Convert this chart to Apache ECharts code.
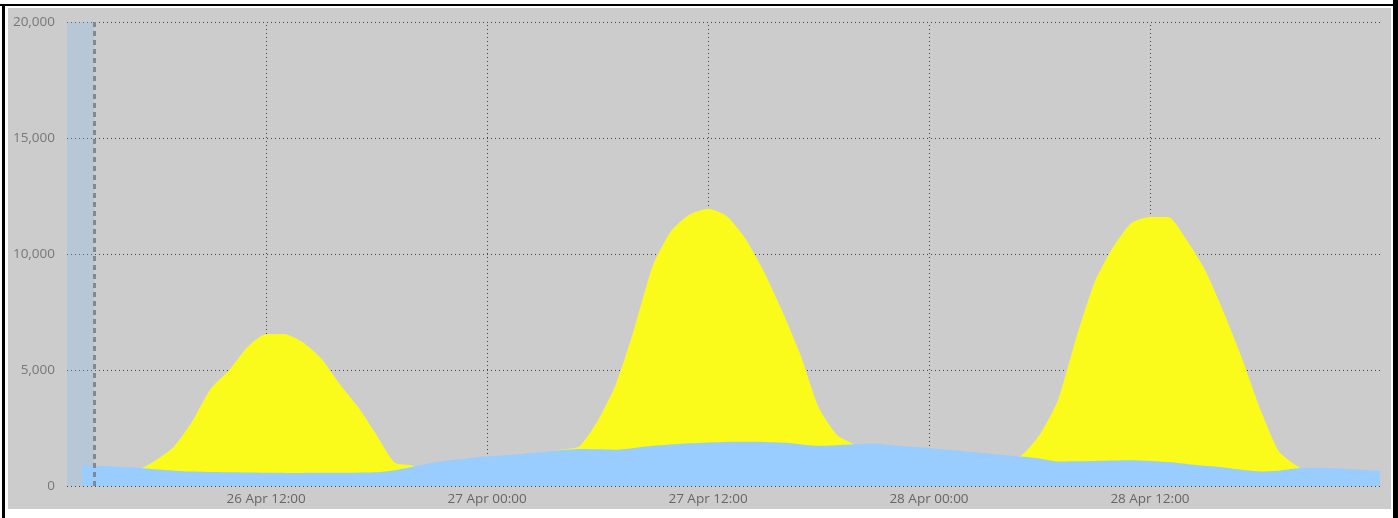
<!doctype html>
<html>
<head>
<meta charset="utf-8">
<title>Solar vs consumption</title>
<script src="https://cdn.jsdelivr.net/npm/echarts@6/dist/echarts.min.js"></script>
<style type="text/css">
	body{margin:0; background:#fff; width:1398px; height:518px; overflow:hidden; position:relative;}
	.bar{position:absolute; background:#000;}
	#chart{position:absolute; left:8px; top:8px; width:1383px; height:501px; background:#cccccc;}
</style>
</head>
<body>
<div class="bar" style="left:0; top:4px; width:1393px; height:2px;"></div>
<div class="bar" style="left:2px; top:4px; width:3px; height:514px;"></div>
<div class="bar" style="left:1393px; top:0; width:5px; height:518px;"></div>
<div id="chart"></div>
<script type="text/javascript">
// hours since 26 Apr 00:00, one sample per hour
var hours = [];
for (var h = 2; h <= 72; h++) hours.push(h);
hours.push(72.5);

// house consumption (blue)
var usage = [880,860,830,790,720,660,620,600,590,580,570,565,565,570,570,575,590,680,830,1000,
	1110,1200,1280,1330,1390,1450,1540,1590,1580,1560,1640,1730,1790,1840,1880,1900,1905,1900,1875,1800,
	1730,1760,1800,1830,1760,1700,1640,1560,1490,1420,1340,1270,1190,1060,1070,1080,1100,1110,1080,1030,
	950,870,800,700,630,660,760,790,760,720,680,655];

// solar production (yellow)
var solar = [0,0,0,650,1100,1700,2800,4200,5000,6000,6550,6550,6200,5500,4400,3400,2200,1000,860,200,
	0,0,0,0,0,1300,1560,1700,2800,4400,6800,9500,11000,11700,11950,11650,10700,9300,7600,5700,
	3400,2200,1750,800,0,0,0,0,0,0,1000,1300,2200,3700,6400,8800,10300,11350,11600,11600,
	10600,9300,7500,5500,3300,1500,850,400,0,0,0,0];

var yTicks = [0, 5000, 10000, 15000, 20000];
var gridHours = [12, 24, 36, 48, 60];   // vertical grid lines / labelled ticks
var axisStartHour = 1.19, axisEndHour = 72.6, nowHour = 2.66;
var months = ['Jan','Feb','Mar','Apr','May','Jun','Jul','Aug','Sep','Oct','Nov','Dec'];

var base = new Date(2023, 3, 26, 0, 0).getTime();
function at(h){ return base + h * 3600 * 1000; }
function pad(n){ return (n < 10 ? '0' : '') + n; }

var usageData = hours.map(function(h, i){ return [at(h), usage[i]]; });
var solarData = hours.map(function(h, i){ return [at(h), solar[i]]; });
var labelled = gridHours.map(at);

var chart = echarts.init(document.getElementById('chart'));
var halfDay = 12 * 3600 * 1000;
var gridLine = {color: '#444', width: 1, type: [1, 3]};
var option = {
	animation: false,
	grid: {left: 59, right: 9, top: 14, bottom: 23, outerBoundsMode: 'none'},
	xAxis: {
		type: 'time',
		min: at(axisStartHour),
		max: at(axisEndHour),
		splitNumber: 5,
		minInterval: halfDay,
		axisLine: {show: false},
		axisTick: {show: false},
		axisLabel: {
			color: '#666',
			fontFamily: 'Open Sans',
			fontSize: 13.5,
			margin: 6,
			showMinLabel: false,
			showMaxLabel: false,
			formatter: function(v){
				if (labelled.indexOf(v) < 0) return '';
				var d = new Date(v);
				return d.getDate() + ' ' + months[d.getMonth()] + ' ' + pad(d.getHours()) + ':' + pad(d.getMinutes());
			}
		},
		splitLine: {show: false}
	},
	yAxis: {
		type: 'value',
		min: yTicks[0],
		max: yTicks[yTicks.length - 1],
		interval: 5000,
		axisLine: {show: false},
		axisTick: {show: false},
		axisLabel: {
			color: '#777',
			fontFamily: 'Open Sans',
			fontSize: 13.5,
			margin: 12,
			formatter: function(v){ return v.toLocaleString('en-US'); }
		},
		splitLine: {show: true, lineStyle: gridLine}
	},
	series: [
		{
			name: 'Solar',
			type: 'line',
			data: solarData,
			showSymbol: false,
			smooth: 0.2,
			lineStyle: {width: 0},
			areaStyle: {color: '#fafa1b', opacity: 1},
			z: 2,
			markLine: {
				silent: true,
				symbol: 'none',
				label: {show: false},
				lineStyle: gridLine,
				z: 1,
				data: labelled.map(function(t){ return {xAxis: t}; })
			}
		},
		{
			name: 'Consumption',
			type: 'line',
			data: usageData,
			showSymbol: false,
			smooth: 0.2,
			lineStyle: {width: 0},
			areaStyle: {color: '#99ccff', opacity: 1},
			z: 3,
			markArea: {
				silent: true,
				itemStyle: {color: 'rgba(140,190,235,0.3)'},
				data: [[{xAxis: at(axisStartHour)}, {xAxis: at(nowHour)}]]
			},
			markLine: {
				silent: true,
				symbol: 'none',
				label: {show: false},
				z: 10,
				lineStyle: {color: '#7f8893', width: 3, type: [5, 4], opacity: 1},
				data: [{xAxis: at(nowHour)}]
			}
		}
	]
};
chart.setOption(option);
</script>
</body>
</html>
